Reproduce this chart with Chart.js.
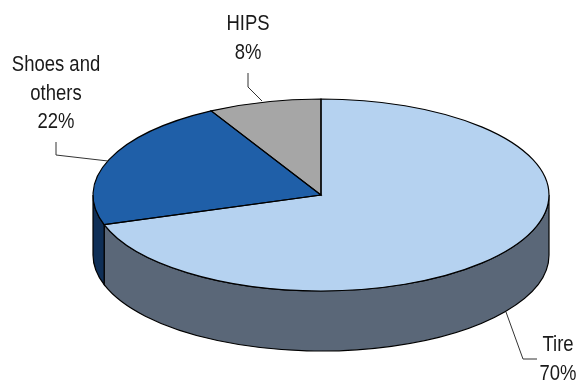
<!DOCTYPE html>
<html>
<head>
<meta charset="utf-8">
<style>html,body{margin:0;padding:0;background:#fff}canvas{display:block}</style>
<script src="https://cdn.jsdelivr.net/npm/chart.js@4/dist/chart.umd.min.js"></script>
</head>
<body>
<canvas id="pie" width="576" height="383"></canvas>
<script>
const categories = ['Tire', 'Shoes and others', 'HIPS'];
const shares = [70, 22, 8];
const labelLines = [['Tire'], ['Shoes and', 'others'], ['HIPS']];
const topColors = ['#b5d2f0', '#1f5fa8', '#a6a6a6'];
const wallColors = ['#5a6778', '#0f2f57', '#6e6e6e'];

// Tilted disc geometry
const disc = { cx: 321, cy: 195, rx: 228, ry: 96, depth: 60 };

// Label anchors and leader polylines, one per slice
const callouts = [
  { x: 558, baseline: 351, path: [[506, 312], [523, 359], [537, 359]] },
  { x: 56, baseline: 71, path: [[56, 142], [56, 155], [108, 161]] },
  { x: 248, baseline: 30, path: [[248, 73], [248, 87], [262, 101]] }
];
const labelFont = { size: 22, squeeze: 0.84, leading: 28.5 };

const tiltedPie = {
  id: 'tiltedPie',
  beforeDatasetsDraw(chart) {
    const ctx = chart.ctx;
    const arcs = chart.getDatasetMeta(0).data;
    // Rim below the front half of the disc
    arcs.forEach((arc, i) => {
      const { startAngle, endAngle } = arc.getProps(['startAngle', 'endAngle'], true);
      const a0 = Math.max(startAngle, 0);
      const a1 = Math.min(endAngle, Math.PI);
      if (a1 <= a0) return;
      ctx.beginPath();
      ctx.ellipse(disc.cx, disc.cy, disc.rx, disc.ry, 0, a0, a1);
      ctx.ellipse(disc.cx, disc.cy + disc.depth, disc.rx, disc.ry, 0, a1, a0, true);
      ctx.closePath();
      ctx.fillStyle = wallColors[i];
      ctx.fill();
      ctx.strokeStyle = '#000';
      ctx.lineWidth = 1.2;
      ctx.stroke();
    });
    // Flatten the library's round pie onto the disc ellipse
    const { x, y, outerRadius } = arcs[0].getProps(['x', 'y', 'outerRadius'], true);
    ctx.save();
    ctx.translate(disc.cx, disc.cy);
    ctx.scale(disc.rx / outerRadius, disc.ry / outerRadius);
    ctx.translate(-x, -y);
  },
  afterDatasetsDraw(chart) {
    const ctx = chart.ctx;
    ctx.restore();
    const arcs = chart.getDatasetMeta(0).data;
    // Slice outlines stay an even width when stroked outside the flattening
    ctx.strokeStyle = '#000';
    ctx.lineWidth = 1.2;
    arcs.forEach(arc => {
      const { startAngle, endAngle } = arc.getProps(['startAngle', 'endAngle'], true);
      ctx.beginPath();
      ctx.moveTo(disc.cx, disc.cy);
      ctx.ellipse(disc.cx, disc.cy, disc.rx, disc.ry, 0, startAngle, endAngle);
      ctx.closePath();
      ctx.stroke();
    });
    // Leader lines and labels
    ctx.strokeStyle = '#333';
    ctx.lineWidth = 1;
    callouts.forEach((c, i) => {
      ctx.beginPath();
      c.path.forEach(([px, py], k) => k ? ctx.lineTo(px, py) : ctx.moveTo(px, py));
      ctx.stroke();
      const lines = [...labelLines[i], shares[i] + '%'];
      ctx.font = labelFont.size + 'px "Liberation Sans", Arial, sans-serif';
      ctx.fillStyle = '#1a1a1a';
      ctx.textAlign = 'center';
      ctx.textBaseline = 'alphabetic';
      lines.forEach((line, k) => {
        ctx.save();
        ctx.translate(c.x, c.baseline + k * labelFont.leading);
        ctx.scale(labelFont.squeeze, 1);
        ctx.fillText(line, 0, 0);
        ctx.restore();
      });
    });
  }
};

new Chart(document.getElementById('pie'), {
  type: 'pie',
  data: {
    labels: categories,
    datasets: [{ data: shares, backgroundColor: topColors, borderWidth: 0, hoverOffset: 0 }]
  },
  options: {
    responsive: false,
    animation: false,
    layout: { padding: 0 },
    plugins: { legend: { display: false }, tooltip: { enabled: false } }
  },
  plugins: [tiltedPie]
});
</script>
</body>
</html>
